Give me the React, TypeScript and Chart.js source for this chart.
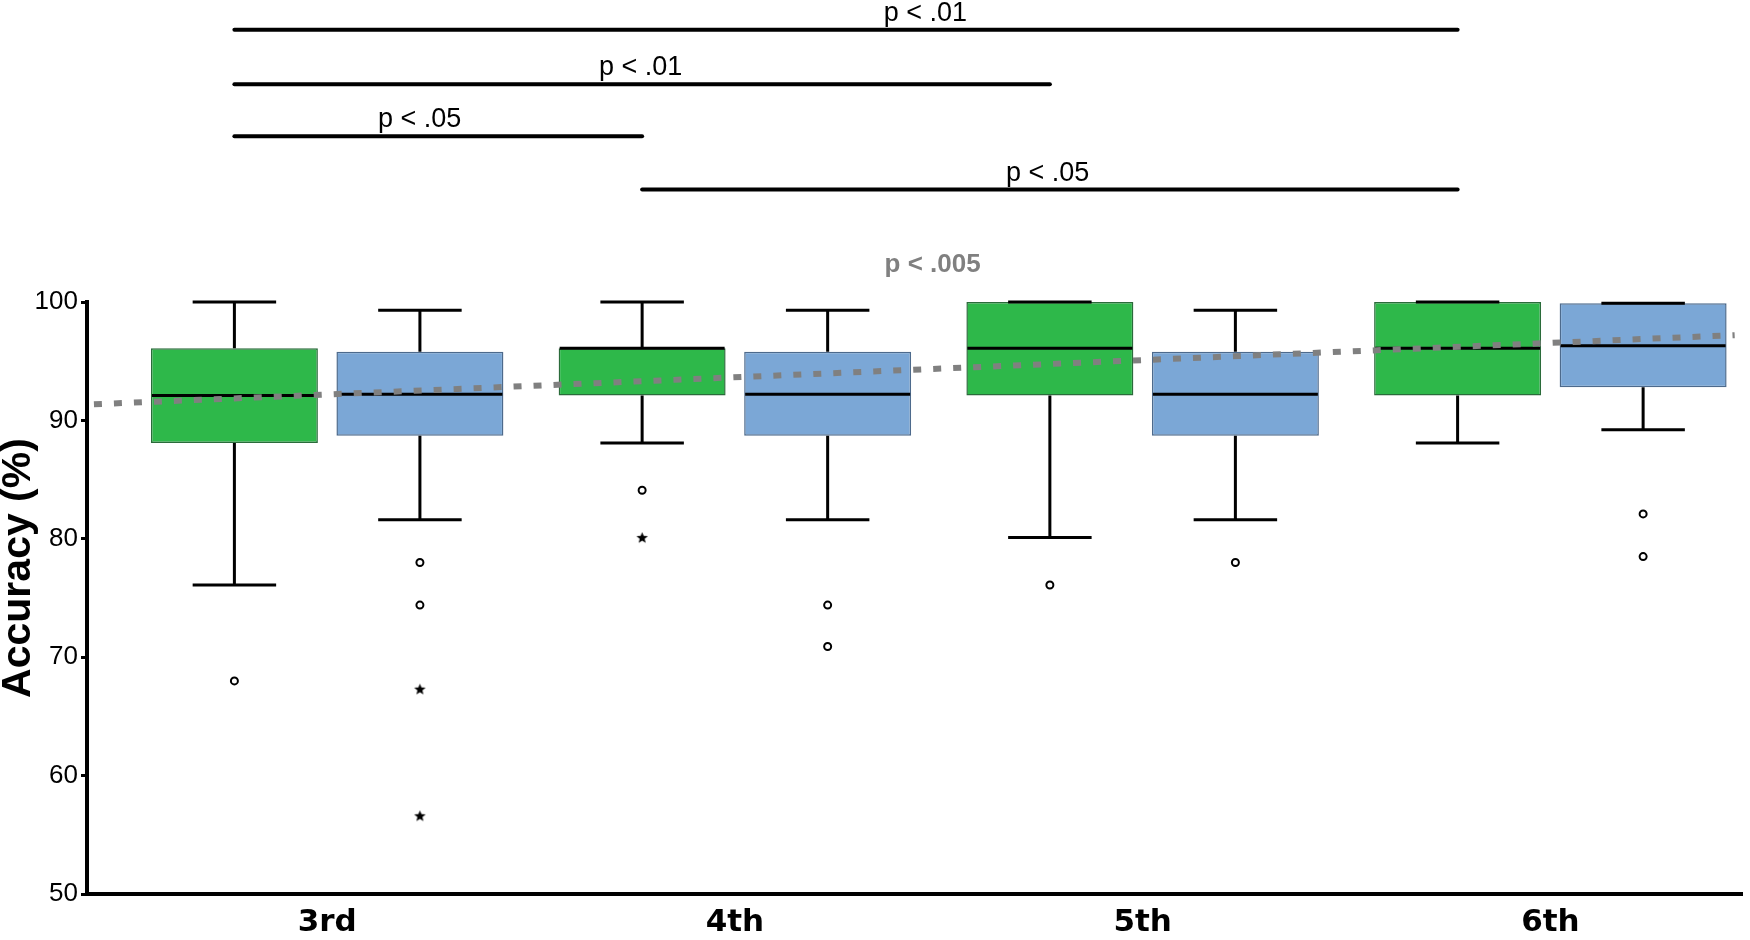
import React, { useEffect, useRef } from "react";
import { Chart, registerables } from "chart.js";

Chart.register(...registerables);

const GRADES = ["3rd", "4th", "5th", "6th"];
const Y_TITLE = "Accuracy (%)";

// green boxes
const GREEN_MIN = [76.1, 88.1, 80.1, 88.1];
const GREEN_Q1 = [88.1, 92.1, 92.1, 92.1];
const GREEN_MEDIAN = [92.1, 96.1, 96.1, 96.1];
const GREEN_Q3 = [96.1, 96.1, 100, 100];
const GREEN_MAX = [100, 100, 100, 100];
const GREEN_CIRCLES = [[68.0], [84.1], [76.1], []];
const GREEN_STARS = [[], [80.1], [], []];

// blue boxes
const BLUE_MIN = [81.6, 81.6, 81.6, 89.2];
const BLUE_Q1 = [88.7, 88.7, 88.7, 92.8];
const BLUE_MEDIAN = [92.2, 92.2, 92.2, 96.3];
const BLUE_Q3 = [95.8, 95.8, 95.8, 99.9];
const BLUE_MAX = [99.3, 99.3, 99.3, 99.9];
const BLUE_CIRCLES = [[78.0, 74.4], [74.4, 70.9], [78.0], [82.1, 78.5]];
const BLUE_STARS = [[67.3, 56.6], [], [], []];

// linear trend across grades
const TREND_X = [-0.572, 3.452];
const TREND_Y = [91.36, 97.2];
const TREND_LABEL = "p < .005";
const TREND_LABEL_AT = [1.485, 102.56];

// significance brackets (grade index from / to, height in %)
const BRACKET_FROM = [0, 0, 0, 1];
const BRACKET_TO = [3, 2, 1, 3];
const BRACKET_LEVEL = [123.0, 118.4, 114.0, 109.5];
const BRACKET_LABELS = ["p < .01", "p < .01", "p < .05", "p < .05"];
const BRACKET_LABEL_X = [1.467, 0.769, 0.227, 1.767];

const CATEGORY_PCT = 0.91;
const PAIR_OFFSET = CATEGORY_PCT / 4;

const GREEN = "#2eb84a";
const GREEN_EDGE = "#2a6b3a";
const BLUE = "#7ba7d6";
const BLUE_EDGE = "#4d6a8c";

const points = (groups: number[][], dx: number) =>
  groups.flatMap((vals, i) => vals.map((y) => ({ x: i + dx, y })));

// small filled star used for extreme outliers
const makeStar = () => {
  const c = document.createElement("canvas");
  c.width = 13;
  c.height = 13;
  const g = c.getContext("2d");
  if (g) {
    g.fillStyle = "#000";
    g.beginPath();
    for (let k = 0; k < 10; k++) {
      const r = k % 2 === 0 ? 6 : 2.6;
      const a = -Math.PI / 2 + (k * Math.PI) / 5;
      const px = 6.5 + r * Math.cos(a);
      const py = 6.9 + r * Math.sin(a);
      if (k === 0) g.moveTo(px, py);
      else g.lineTo(px, py);
    }
    g.closePath();
    g.fill();
  }
  return c;
};

const whiskerPlugin = {
  id: "whiskers",
  afterDatasetDraw(chart: any, args: any) {
    const ds = chart.data.datasets[args.index];
    if (!ds.boxMedian) return;
    const y = chart.scales.y;
    const ctx = chart.ctx;
    ctx.save();
    ctx.strokeStyle = "#000";
    ctx.lineWidth = 3;
    args.meta.data.forEach((bar: any, i: number) => {
      const { x, width } = bar.getProps(["x", "width"], true);
      const half = width / 2;
      const cap = width / 4;
      const [q1, q3] = ds.data[i].y;
      const pMin = y.getPixelForValue(ds.boxMin[i]);
      const pMax = y.getPixelForValue(ds.boxMax[i]);
      const pQ1 = y.getPixelForValue(q1);
      const pQ3 = y.getPixelForValue(q3);
      const pMed = y.getPixelForValue(ds.boxMedian[i]);
      ctx.beginPath();
      ctx.moveTo(x - half + 1, pMed);
      ctx.lineTo(x + half - 1, pMed);
      ctx.moveTo(x, pQ3);
      ctx.lineTo(x, pMax);
      ctx.moveTo(x - cap, pMax);
      ctx.lineTo(x + cap, pMax);
      ctx.moveTo(x, pQ1);
      ctx.lineTo(x, pMin);
      ctx.moveTo(x - cap, pMin);
      ctx.lineTo(x + cap, pMin);
      ctx.stroke();
    });
    ctx.restore();
  },
};

const annotationPlugin = {
  id: "annotations",
  afterDraw(chart: any) {
    const { ctx, chartArea } = chart;
    const { x, y } = chart.scales;
    ctx.save();
    ctx.strokeStyle = "#000";
    ctx.fillStyle = "#000";
    ctx.lineWidth = 4;
    ctx.lineCap = "round";
    ctx.textAlign = "center";
    ctx.textBaseline = "alphabetic";
    ctx.font = '27px "Liberation Sans", Arial, sans-serif';
    BRACKET_LEVEL.forEach((lv, k) => {
      const py = y.getPixelForValue(lv);
      ctx.beginPath();
      ctx.moveTo(x.getPixelForValue(BRACKET_FROM[k] - PAIR_OFFSET), py);
      ctx.lineTo(x.getPixelForValue(BRACKET_TO[k] - PAIR_OFFSET), py);
      ctx.stroke();
      ctx.fillText(BRACKET_LABELS[k], x.getPixelForValue(BRACKET_LABEL_X[k]), py - 9);
    });
    ctx.fillStyle = "#808080";
    ctx.font = 'bold 26px "Liberation Sans", Arial, sans-serif';
    ctx.fillText(
      TREND_LABEL,
      x.getPixelForValue(TREND_LABEL_AT[0]),
      y.getPixelForValue(TREND_LABEL_AT[1])
    );

    // y axis title, sitting a little above the axis middle as in the source figure
    ctx.fillStyle = "#000";
    ctx.font = 'bold 41px "Liberation Sans", Arial, sans-serif';
    ctx.textBaseline = "middle";
    ctx.translate(19, (chartArea.top + chartArea.bottom) / 2 - 30);
    ctx.rotate(-Math.PI / 2);
    ctx.fillText(Y_TITLE, 0, 0);
    ctx.restore();
  },
};

const App: React.FC = () => {
  const canvasRef = useRef<HTMLCanvasElement | null>(null);
  const chartRef = useRef<Chart | null>(null);

  useEffect(() => {
    if (!canvasRef.current) return;
    if (chartRef.current) chartRef.current.destroy();

    const star = makeStar();

    const boxDefaults = {
      type: "bar" as const,
      borderWidth: 1.5,
      borderSkipped: false,
      categoryPercentage: CATEGORY_PCT,
      barPercentage: 0.9,
      clip: false as const,
      order: 2,
    };
    const outlierDefaults = {
      type: "scatter" as const,
      borderColor: "#000",
      backgroundColor: "#fff",
      borderWidth: 2,
      clip: false as const,
      order: 1,
    };

    chartRef.current = new Chart(canvasRef.current, {
      type: "bar",
      data: {
        datasets: [
          {
            ...boxDefaults,
            label: "green",
            data: GREEN_Q1.map((q1, i) => ({ x: i, y: [q1, GREEN_Q3[i]] })),
            backgroundColor: GREEN,
            borderColor: GREEN_EDGE,
            boxMin: GREEN_MIN,
            boxMedian: GREEN_MEDIAN,
            boxMax: GREEN_MAX,
          } as any,
          {
            ...boxDefaults,
            label: "blue",
            data: BLUE_Q1.map((q1, i) => ({ x: i, y: [q1, BLUE_Q3[i]] })),
            backgroundColor: BLUE,
            borderColor: BLUE_EDGE,
            boxMin: BLUE_MIN,
            boxMedian: BLUE_MEDIAN,
            boxMax: BLUE_MAX,
          } as any,
          {
            ...outlierDefaults,
            data: [...points(GREEN_CIRCLES, -PAIR_OFFSET), ...points(BLUE_CIRCLES, PAIR_OFFSET)],
            pointStyle: "circle",
            pointRadius: 3.5,
          } as any,
          {
            ...outlierDefaults,
            data: [...points(GREEN_STARS, -PAIR_OFFSET), ...points(BLUE_STARS, PAIR_OFFSET)],
            pointStyle: star,
            pointRadius: 6,
          } as any,
          {
            type: "line",
            data: TREND_X.map((x, i) => ({ x, y: TREND_Y[i] })),
            borderColor: "#808080",
            borderWidth: 6,
            borderDash: [8, 12],
            borderCapStyle: "butt",
            pointRadius: 0,
            fill: false,
            order: 0,
          } as any,
        ],
      },
      options: {
        animation: false,
        responsive: true,
        maintainAspectRatio: false,
        layout: { padding: { top: 302, right: 3, left: 0, bottom: 0 } },
        plugins: {
          legend: { display: false },
          tooltip: { enabled: false },
        },
        scales: {
          x: {
            type: "linear",
            offset: false,
            min: -0.589,
            max: 3.47,
            afterBuildTicks: (s: any) => {
              s.ticks = GRADES.map((_, i) => ({ value: i }));
            },
            afterFit: (s: any) => {
              s.height = 46;
            },
            ticks: {
              callback: (v: any) => GRADES[v] ?? "",
              autoSkip: false,
              maxRotation: 0,
              padding: 10,
              color: "#000",
              font: { family: "DejaVu Sans", size: 31, weight: "bold" },
            },
            grid: { display: false, drawTicks: false },
            border: { display: true, color: "#000", width: 4 },
          },
          y: {
            min: 50,
            max: 100,
            afterFit: (s: any) => {
              s.width = 87;
            },
            ticks: {
              stepSize: 10,
              padding: 3,
              color: "#000",
              font: { family: "Liberation Sans", size: 26 },
            },
            grid: {
              display: true,
              drawOnChartArea: false,
              drawTicks: true,
              tickLength: 6,
              lineWidth: 3,
              color: "#000",
            },
            border: { display: true, color: "#000", width: 4 },
          },
        },
      } as any,
      plugins: [whiskerPlugin, annotationPlugin],
    });

    return () => {
      if (chartRef.current) {
        chartRef.current.destroy();
        chartRef.current = null;
      }
    };
  }, []);

  return (
    <div style={{ position: "absolute", left: 0, top: 0, width: 1750, height: 940, background: "#fff" }}>
      <canvas ref={canvasRef} />
    </div>
  );
};

export default App;
